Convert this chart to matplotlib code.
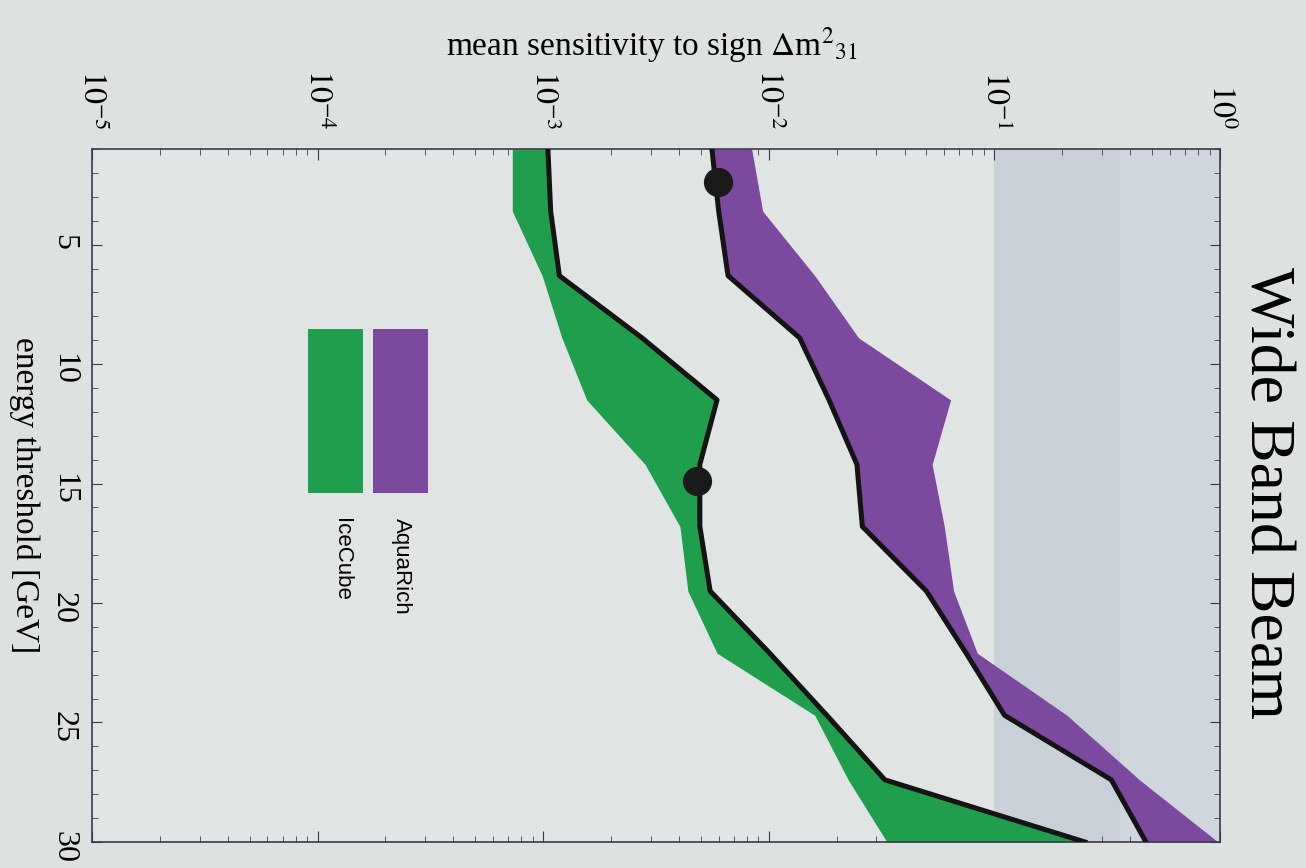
import matplotlib
matplotlib.use("Agg")
import matplotlib.pyplot as plt
from matplotlib.patches import Rectangle

plt.rcParams['font.family'] = ['Liberation Serif', 'DejaVu Serif']
plt.rcParams['mathtext.fontset'] = 'stix'

# energy threshold [GeV] at which the sensitivities were evaluated
energy = [1.0, 3.6, 6.3, 8.9, 11.5, 14.2, 16.8, 19.5, 22.1, 24.7, 27.4, 30.0]

# AquaRich band: lower edge (black curve) and upper edge
aquarich_low = [5.6e-3, 6.0e-3, 6.6e-3, 1.37e-2, 1.85e-2, 2.46e-2, 2.6e-2,
                5.0e-2, 7.5e-2, 0.111, 0.33, 0.47]
aquarich_high = [8.4e-3, 9.4e-3, 1.6e-2, 2.5e-2, 6.4e-2, 5.3e-2, 6.0e-2,
                 6.6e-2, 8.4e-2, 0.21, 0.44, 0.98]

# IceCube band: lower edge and upper edge (black curve)
icecube_low = [7.3e-4, 7.3e-4, 9.9e-4, 1.21e-3, 1.56e-3, 2.83e-3, 4.04e-3,
               4.38e-3, 5.9e-3, 1.6e-2, 2.25e-2, 3.34e-2]
icecube_high = [1.05e-3, 1.08e-3, 1.18e-3, 2.74e-3, 5.9e-3, 4.95e-3, 4.95e-3,
                5.5e-3, 1.01e-2, 1.81e-2, 3.27e-2, 0.252]

# highlighted working points (energy, sensitivity)
dot_energy = [2.4, 14.9]
dot_sens = [5.96e-3, 4.8e-3]

decades = [1e-5, 1e-4, 1e-3, 1e-2, 1e-1, 1e0]
decade_labels = [r'$10^{-5}$', r'$10^{-4}$', r'$10^{-3}$', r'$10^{-2}$',
                 r'$10^{-1}$', r'$10^{0}$']
energy_ticks = [5, 10, 15, 20, 25, 30]

purple = '#7b4a9e'
green = '#1f9e4d'

fig = plt.figure(figsize=(13.06, 8.68), dpi=100)
fig.patch.set_facecolor('#dde2e1')
ax = fig.add_axes([0.0704, 0.030, 0.8637, 0.7983])
ax.set_facecolor('#e0e4e3')

ax.set_xscale('log')
ax.set_xlim(1e-5, 1)
ax.set_ylim(30, 1)

# excluded region above 0.1
ax.axvspan(0.1, 0.36, color='#c9d0d8', lw=0, zorder=0)
ax.axvspan(0.36, 1, color='#d0d6dd', lw=0, zorder=0)

ax.fill_betweenx(energy, aquarich_low, aquarich_high, color=purple, lw=0, zorder=2)
ax.fill_betweenx(energy, icecube_low, icecube_high, color=green, lw=0, zorder=2)
ax.plot(aquarich_low, energy, color='#141414', lw=3.6, zorder=3)
ax.plot(icecube_high, energy, color='#141414', lw=3.6, zorder=3)
ax.plot(dot_sens, dot_energy, 'o', color='#1a1a1a', ms=20, zorder=4)

# axes styling
for s in ax.spines.values():
    s.set_color('#3a3a4a')
    s.set_linewidth(1.2)

ax.xaxis.tick_top()
ax.set_xticks(decades)
ax.set_xticklabels(decade_labels)
ax.tick_params(axis='x', which='both', direction='in', top=True, bottom=True,
               labeltop=True, labelbottom=False, labelrotation=-90,
               labelsize=23, pad=14, color='#3a3a4a')
ax.tick_params(axis='x', which='major', length=8)
ax.tick_params(axis='x', which='minor', length=4)

ax.set_yticks(energy_ticks)
ax.set_yticks(range(1, 31), minor=True)
ax.tick_params(axis='y', which='both', direction='in', left=True, right=True,
               labelrotation=-90, labelsize=23, pad=10, color='#3a3a4a')
ax.tick_params(axis='y', which='major', length=7)
ax.tick_params(axis='y', which='minor', length=4)

ax.set_xlabel(r'mean sensitivity to sign $\Delta$m$^{2}{}_{31}$', fontsize=24,
              ha='center', va='center')
ax.xaxis.set_label_coords(0.4965, 1.150)
ax.set_ylabel('energy threshold [GeV]', fontsize=24, rotation=-90,
              ha='center', va='center')
ax.yaxis.set_label_coords(-0.0594, 0.5)

ax.text(1.040, 0.504, 'Wide Band Beam', transform=ax.transAxes, rotation=-90,
        ha='center', va='center', fontsize=46)

# legend swatches
ax.add_patch(Rectangle((0.1915, 0.504), 0.0485, 0.236, transform=ax.transAxes,
                       color=green, lw=0, zorder=5))
ax.add_patch(Rectangle((0.249, 0.504), 0.049, 0.236, transform=ax.transAxes,
                       color=purple, lw=0, zorder=5))
ax.text(0.221, 0.468, 'IceCube', transform=ax.transAxes, rotation=-90,
        ha='center', va='top', fontsize=16, family='Liberation Sans')
ax.text(0.2745, 0.468, 'AquaRich', transform=ax.transAxes, rotation=-90,
        ha='center', va='top', fontsize=16, family='Liberation Sans')

fig.savefig('out.png', dpi=100, facecolor=fig.get_facecolor())
